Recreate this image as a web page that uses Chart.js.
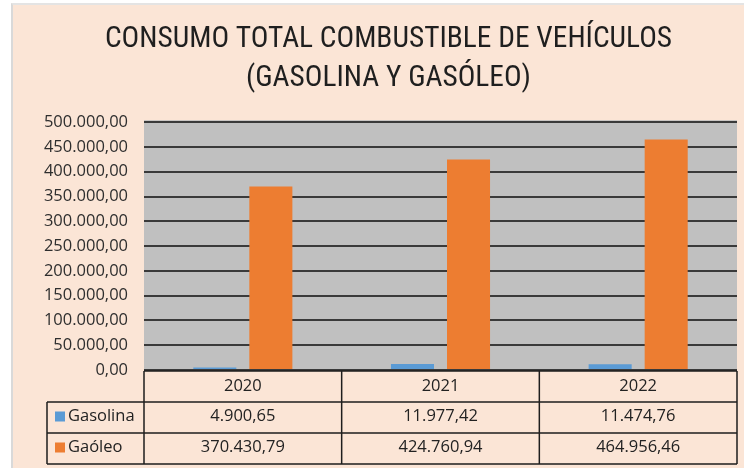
<!DOCTYPE html>
<html><head><meta charset="utf-8">
<script src="https://cdn.jsdelivr.net/npm/chart.js@4"></script>
<style>
html,body{margin:0;padding:0;background:#fff;}
#wrap{position:relative;width:744px;height:468px;overflow:hidden;}
#frame{position:absolute;left:11px;top:3px;width:740px;height:470px;background:#FBE5D6;border-left:2px solid #d9d9d9;border-top:2px solid #e4e4e4;}
canvas{position:absolute;left:0;top:0;}
</style></head>
<body><div id="wrap"><div id="frame"></div><canvas id="c" width="744" height="468"></canvas></div>
<script>
const categories = ['2020', '2021', '2022'];
const seriesNames = ['Gasolina', 'Gaóleo'];
const gasolina = [4900.65, 11977.42, 11474.76];
const gasoleo = [370430.79, 424760.94, 464956.46];
const titleLines = ['CONSUMO TOTAL COMBUSTIBLE DE VEHÍCULOS', '(GASOLINA Y GASÓLEO)'];
const yMin = 0, yMax = 500000, yStep = 50000;
const colors = ['#5B9BD5', '#ED7D31'];

function fmt(v) {
  const parts = Math.abs(v).toFixed(2).split('.');
  return parts[0].replace(/\B(?=(\d{3})+(?!\d))/g, '.') + ',' + parts[1];
}

const TEXT_FONT = "16.5px 'Open Sans', sans-serif";
const TEXT_COLOR = '#222222';

const plotBg = {
  id: 'plotBg',
  beforeDraw(chart) {
    const {ctx, chartArea: a} = chart;
    ctx.save();
    ctx.fillStyle = '#C0C0C0';
    ctx.fillRect(a.left, a.top - 2, a.right - a.left, a.bottom - a.top + 2);
    ctx.restore();
  }
};

const dataTable = {
  id: 'dataTable',
  afterDraw(chart) {
    const {ctx, chartArea: a} = chart;
    const x = chart.scales.x;
    const n = categories.length;
    const cw = (a.right - a.left) / n;
    const rowH = 31;
    const y0 = a.bottom + 1, y1 = y0 + rowH, y2 = y1 + rowH, y3 = y2 + rowH;
    const legLeft = 47;
    const series = [gasolina, gasoleo];
    ctx.save();
    ctx.strokeStyle = '#1e1e1e';
    ctx.lineWidth = 1.5;
    ctx.beginPath();
    ctx.moveTo(a.left, y0); ctx.lineTo(a.right, y0);
    [y1, y2, y3].forEach(yy => { ctx.moveTo(legLeft, yy); ctx.lineTo(a.right, yy); });
    ctx.moveTo(legLeft, y1); ctx.lineTo(legLeft, y3);
    for (let i = 0; i <= n; i++) {
      const xx = a.left + i * cw;
      ctx.moveTo(xx, y0); ctx.lineTo(xx, y3);
    }
    ctx.stroke();
    ctx.font = TEXT_FONT;
    ctx.fillStyle = TEXT_COLOR;
    ctx.textAlign = 'center';
    ctx.textBaseline = 'middle';
    categories.forEach((c, i) => {
      const cx = x.getPixelForValue(i);
      ctx.fillText(c, cx, (y0 + y1) / 2);
      series.forEach((s, j) => {
        const ry = [y1, y2][j];
        ctx.fillText(fmt(s[i]), cx, ry + rowH / 2 - 1);
      });
    });
    ctx.textAlign = 'left';
    seriesNames.forEach((name, j) => {
      const ry = [y1, y2][j];
      const cy = ry + rowH / 2 - 1;
      ctx.fillStyle = colors[j];
      ctx.fillRect(55, cy - 5, 10, 10);
      ctx.fillStyle = TEXT_COLOR;
      ctx.fillText(name, 68, cy);
    });
    ctx.restore();
  }
};

new Chart(document.getElementById('c'), {
  type: 'bar',
  data: {
    labels: categories,
    datasets: [
      {label: seriesNames[0], data: gasolina, backgroundColor: colors[0], categoryPercentage: 0.567, barPercentage: 0.768},
      {label: seriesNames[1], data: gasoleo, backgroundColor: colors[1], categoryPercentage: 0.567, barPercentage: 0.768}
    ]
  },
  options: {
    responsive: false,
    animation: false,
    devicePixelRatio: 1,
    layout: {padding: {left: 40, right: 7, top: 4, bottom: 98}},
    plugins: {
      legend: {display: false},
      tooltip: {enabled: false},
      title: {
        display: true,
        text: titleLines,
        color: '#1f1f1f',
        font: {family: "'Liberation Sans Narrow', 'Roboto Condensed', Roboto, sans-serif", size: 29.4, weight: 'normal', lineHeight: 1.33},
        padding: {top: 16, bottom: 24}
      }
    },
    scales: {
      x: {display: false},
      y: {
        min: yMin, max: yMax,
        afterFit(scale) { scale.width = 104; },
        ticks: {stepSize: yStep, padding: 16, color: '#2e2e2e', font: {family: "'Open Sans', sans-serif", size: 16.5}, callback: v => fmt(v)},
        grid: {color: '#3a3a3a', lineWidth: 2, drawTicks: false},
        border: {display: false}
      }
    }
  },
  plugins: [plotBg, dataTable]
});
</script>
</body></html>
